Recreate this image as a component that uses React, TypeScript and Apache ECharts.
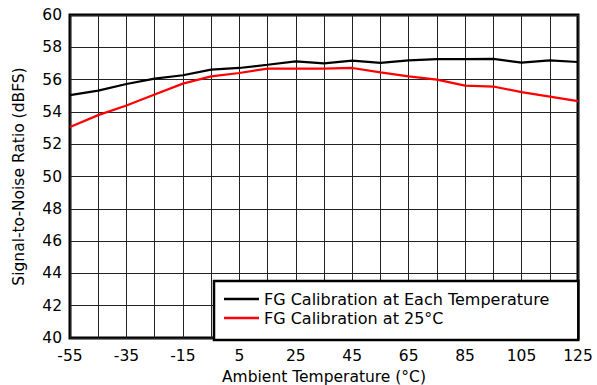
import React, { useEffect, useRef } from "react";
import * as echarts from "echarts";

const temps = ["-55", "-45", "-35", "-25", "-15", "-5", "5", "15", "25", "35", "45", "55", "65", "75", "85", "95", "105", "115", "125"];
const eachTemp = [55.04, 55.32, 55.73, 56.06, 56.27, 56.62, 56.72, 56.92, 57.13, 57.0, 57.17, 57.03, 57.19, 57.27, 57.27, 57.28, 57.05, 57.19, 57.09];
const at25 = [53.07, 53.8, 54.4, 55.08, 55.75, 56.2, 56.41, 56.68, 56.68, 56.68, 56.72, 56.45, 56.2, 56.0, 55.63, 55.57, 55.22, 54.95, 54.67];
const seriesNames = ["FG Calibration at Each Temperature", "FG Calibration at 25°C"];

const FONT = "'DejaVu Sans', Arial, sans-serif";
const FS = 15.5;

export default function App() {
  const ref = useRef<HTMLDivElement>(null);
  useEffect(() => {
    if (!ref.current) return;
    const chart = echarts.init(ref.current, null, { renderer: "svg" });
    chart.setOption({
      animation: false,
      backgroundColor: "#fff",
      textStyle: { fontFamily: FONT, color: "#000" },
      grid: {
        left: 70, right: 19, top: 15, bottom: 47,
        outerBoundsMode: "none",
        containLabel: false,
        show: true, borderColor: "#000", borderWidth: 3, backgroundColor: "transparent",
      },
      legend: {
        left: 214,
        top: 281,
        orient: "vertical",
        backgroundColor: "#fff",
        borderColor: "#000",
        borderWidth: 2.5,
        borderRadius: 0,
        padding: [10, 29, 14, 10],
        itemGap: 3,
        itemWidth: 35,
        itemHeight: 2.5,
        icon: "rect",
        textStyle: { fontFamily: FONT, fontSize: 16, color: "#000" },
        data: seriesNames,
      },
      xAxis: {
        type: "category",
        data: temps,
        boundaryGap: false,
        name: "Ambient Temperature (°C)",
        nameLocation: "middle",
        nameGap: 31,
        nameTextStyle: { fontFamily: FONT, fontSize: FS, color: "#000" },
        axisLine: { show: false },
        axisTick: { show: false },
        axisLabel: { interval: 1, margin: 10, fontFamily: FONT, fontSize: FS, color: "#000" },
        splitLine: { show: true, interval: 0, lineStyle: { color: "#222", width: 1 } },
      },
      yAxis: {
        type: "value",
        min: 40,
        max: 60,
        interval: 2,
        name: "Signal-to-Noise Ratio (dBFS)",
        nameLocation: "middle",
        nameGap: 43,
        nameTextStyle: { fontFamily: FONT, fontSize: FS, color: "#000" },
        axisLine: { show: false },
        axisTick: { show: false },
        axisLabel: { margin: 8, fontFamily: FONT, fontSize: FS, color: "#000" },
        splitLine: { show: true, lineStyle: { color: "#222", width: 1 } },
      },
      series: [
        {
          name: seriesNames[0],
          type: "line",
          data: eachTemp,
          symbol: "none",
          lineStyle: { color: "#000", width: 2.2 },
          itemStyle: { color: "#000" },
        },
        {
          name: seriesNames[1],
          type: "line",
          data: at25,
          symbol: "none",
          lineStyle: { color: "#ff0000", width: 2.2 },
          itemStyle: { color: "#ff0000" },
        },
      ],
    });
    return () => chart.dispose();
  }, []);
  return <div ref={ref} style={{ width: 597, height: 385, position: "absolute", left: 0, top: 0 }} />;
}
